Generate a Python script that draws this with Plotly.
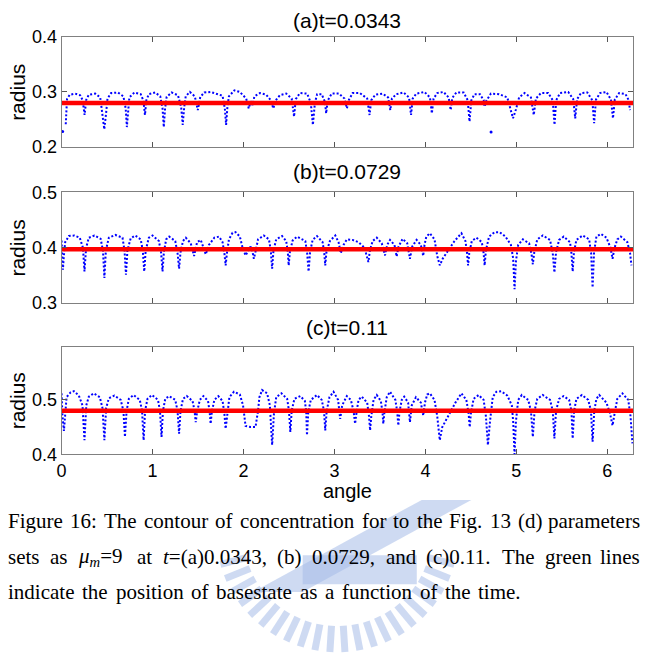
import math
import plotly.graph_objects as go

# ---------------- data ----------------
TITLES = ["(a)t=0.0343", "(b)t=0.0729", "(c)t=0.11"]
BASE_RADIUS = [0.280, 0.397, 0.480]
Y_RANGES = [(0.2, 0.4), (0.3, 0.5), (0.4, 0.598)]
Y_TICKS = [[0.2, 0.3, 0.4], [0.3, 0.4, 0.5], [0.4, 0.5]]
X_TICKS = [0, 1, 2, 3, 4, 5, 6]

# contour of panel (a): (angle, radius)
CONTOUR_A = [
    (0.046, 0.241), (0.052, 0.270), (0.060, 0.287), (0.090, 0.295), (0.150, 0.297), (0.205, 0.294),
    (0.232, 0.285), (0.253, 0.258), (0.272, 0.286), (0.300, 0.295), (0.370, 0.297), (0.425, 0.290),
    (0.450, 0.260), (0.470, 0.232), (0.490, 0.262), (0.505, 0.288), (0.545, 0.298), (0.620, 0.299),
    (0.680, 0.292), (0.705, 0.270), (0.718, 0.236), (0.731, 0.270), (0.745, 0.290), (0.800, 0.299),
    (0.870, 0.296), (0.900, 0.284), (0.917, 0.258), (0.932, 0.285), (0.960, 0.296), (1.030, 0.299),
    (1.085, 0.292), (1.110, 0.270), (1.124, 0.236), (1.138, 0.270), (1.155, 0.291), (1.210, 0.299),
    (1.280, 0.294), (1.315, 0.272), (1.332, 0.240), (1.348, 0.272), (1.365, 0.292), (1.410, 0.300),
    (1.465, 0.292), (1.498, 0.267), (1.525, 0.291), (1.570, 0.299), (1.640, 0.300), (1.770, 0.293),
    (1.795, 0.270), (1.809, 0.240), (1.823, 0.272), (1.840, 0.292), (1.900, 0.303), (1.960, 0.300),
    (2.030, 0.288), (2.058, 0.270), (2.080, 0.283), (2.100, 0.276), (2.120, 0.292), (2.180, 0.298),
    (2.250, 0.295), (2.300, 0.285), (2.328, 0.270), (2.355, 0.285), (2.400, 0.294), (2.470, 0.297),
    (2.530, 0.288), (2.556, 0.255), (2.575, 0.287), (2.620, 0.298), (2.700, 0.297), (2.740, 0.280),
    (2.763, 0.240), (2.785, 0.280), (2.810, 0.296), (2.860, 0.296), (2.895, 0.282), (2.909, 0.261),
    (2.925, 0.284), (2.970, 0.297), (3.050, 0.297), (3.110, 0.288), (3.137, 0.270), (3.160, 0.286),
    (3.200, 0.298), (3.280, 0.298), (3.360, 0.288), (3.386, 0.258), (3.405, 0.285), (3.450, 0.295),
    (3.530, 0.297), (3.590, 0.290), (3.614, 0.267), (3.632, 0.288), (3.680, 0.296), (3.760, 0.299),
    (3.820, 0.290), (3.842, 0.258), (3.860, 0.288), (3.900, 0.297), (3.990, 0.300), (4.050, 0.290),
    (4.071, 0.261), (4.090, 0.288), (4.130, 0.298), (4.200, 0.300), (4.255, 0.290), (4.278, 0.267),
    (4.295, 0.289), (4.340, 0.299), (4.420, 0.299), (4.465, 0.285), (4.485, 0.246), (4.505, 0.285),
    (4.540, 0.296), (4.600, 0.296), (4.640, 0.285), (4.651, 0.273), (4.670, 0.284), (4.720, 0.297),
    (4.810, 0.296), (4.900, 0.290), (4.930, 0.270), (4.963, 0.252), (4.995, 0.268), (5.030, 0.290),
    (5.090, 0.298), (5.160, 0.290), (5.191, 0.258), (5.215, 0.288), (5.270, 0.298), (5.350, 0.298),
    (5.400, 0.285), (5.419, 0.240), (5.438, 0.285), (5.480, 0.298), (5.570, 0.300), (5.625, 0.287),
    (5.647, 0.252), (5.668, 0.287), (5.710, 0.298), (5.780, 0.299), (5.835, 0.285), (5.855, 0.243),
    (5.875, 0.286), (5.920, 0.298), (5.990, 0.300), (6.040, 0.286), (6.062, 0.252), (6.082, 0.286),
    (6.130, 0.298), (6.200, 0.296), (6.235, 0.285), (6.249, 0.267),
]
STRAY_A = [(0.012, 0.228), (4.722, 0.227)]

CONTOUR_B = [
    (0.000, 0.413), (0.010, 0.385), (0.015, 0.360), (0.025, 0.385), (0.040, 0.410), (0.080, 0.421),
    (0.140, 0.422), (0.200, 0.418), (0.235, 0.400), (0.252, 0.357), (0.270, 0.400), (0.300, 0.418),
    (0.361, 0.422), (0.430, 0.416), (0.455, 0.395), (0.471, 0.345), (0.487, 0.395), (0.520, 0.418),
    (0.591, 0.423), (0.670, 0.418), (0.692, 0.395), (0.708, 0.351), (0.724, 0.395), (0.760, 0.417),
    (0.810, 0.422), (0.870, 0.415), (0.893, 0.395), (0.909, 0.357), (0.925, 0.395), (0.960, 0.418),
    (1.000, 0.422), (1.070, 0.412), (1.095, 0.390), (1.110, 0.357), (1.125, 0.392), (1.150, 0.415),
    (1.183, 0.420), (1.250, 0.412), (1.275, 0.390), (1.292, 0.362), (1.308, 0.392), (1.335, 0.412),
    (1.366, 0.418), (1.420, 0.408), (1.457, 0.385), (1.490, 0.410), (1.530, 0.414), (1.560, 0.400),
    (1.585, 0.388), (1.620, 0.405), (1.680, 0.418), (1.731, 0.420), (1.770, 0.410), (1.790, 0.390),
    (1.804, 0.368), (1.818, 0.390), (1.840, 0.415), (1.880, 0.427), (1.913, 0.428), (1.960, 0.420),
    (1.990, 0.400), (2.023, 0.386), (2.050, 0.395), (2.078, 0.402), (2.100, 0.392), (2.114, 0.380),
    (2.135, 0.395), (2.160, 0.415), (2.223, 0.422), (2.280, 0.415), (2.300, 0.395), (2.315, 0.362),
    (2.330, 0.395), (2.360, 0.415), (2.424, 0.421), (2.470, 0.412), (2.487, 0.392), (2.497, 0.368),
    (2.510, 0.392), (2.540, 0.413), (2.588, 0.420), (2.680, 0.412), (2.700, 0.390), (2.716, 0.357),
    (2.732, 0.392), (2.760, 0.414), (2.808, 0.421), (2.870, 0.410), (2.888, 0.390), (2.899, 0.368),
    (2.912, 0.392), (2.950, 0.412), (3.009, 0.422), (3.045, 0.410), (3.070, 0.390), (3.100, 0.405),
    (3.136, 0.415), (3.200, 0.414), (3.264, 0.410), (3.330, 0.400), (3.355, 0.385), (3.373, 0.374),
    (3.390, 0.395), (3.420, 0.412), (3.465, 0.418), (3.520, 0.408), (3.556, 0.386), (3.580, 0.405),
    (3.611, 0.414), (3.660, 0.405), (3.684, 0.384), (3.705, 0.402), (3.749, 0.416), (3.800, 0.408),
    (3.830, 0.380), (3.855, 0.402), (3.903, 0.414), (3.950, 0.405), (3.976, 0.385), (3.990, 0.405),
    (4.010, 0.420), (4.049, 0.426), (4.100, 0.415), (4.130, 0.385), (4.158, 0.368), (4.190, 0.380),
    (4.250, 0.395), (4.320, 0.412), (4.396, 0.426), (4.440, 0.412), (4.458, 0.390), (4.469, 0.368),
    (4.482, 0.390), (4.510, 0.412), (4.560, 0.418), (4.620, 0.410), (4.640, 0.390), (4.651, 0.368),
    (4.665, 0.395), (4.700, 0.420), (4.760, 0.428), (4.816, 0.428), (4.880, 0.420), (4.940, 0.405),
    (4.965, 0.380), (4.980, 0.325), (4.995, 0.375), (5.020, 0.405), (5.071, 0.415), (5.140, 0.408),
    (5.165, 0.390), (5.181, 0.370), (5.197, 0.392), (5.230, 0.415), (5.290, 0.422), (5.370, 0.414),
    (5.400, 0.390), (5.418, 0.355), (5.436, 0.392), (5.470, 0.414), (5.520, 0.420), (5.590, 0.410),
    (5.605, 0.390), (5.619, 0.357), (5.633, 0.392), (5.660, 0.414), (5.728, 0.422), (5.800, 0.415),
    (5.822, 0.390), (5.838, 0.328), (5.854, 0.392), (5.880, 0.420), (5.929, 0.425), (5.990, 0.418),
    (6.035, 0.400), (6.057, 0.380), (6.080, 0.400), (6.110, 0.415), (6.148, 0.420), (6.220, 0.410),
    (6.250, 0.390), (6.265, 0.368),
]

CONTOUR_C = [
    (0.000, 0.512), (0.010, 0.470), (0.026, 0.443), (0.040, 0.480), (0.055, 0.505), (0.100, 0.514),
    (0.135, 0.516), (0.190, 0.508), (0.230, 0.490), (0.252, 0.426), (0.272, 0.490), (0.300, 0.506),
    (0.354, 0.512), (0.420, 0.505), (0.450, 0.485), (0.471, 0.426), (0.490, 0.485), (0.520, 0.503),
    (0.580, 0.508), (0.650, 0.500), (0.680, 0.480), (0.697, 0.432), (0.715, 0.480), (0.740, 0.502),
    (0.792, 0.509), (0.860, 0.500), (0.885, 0.480), (0.902, 0.426), (0.918, 0.480), (0.945, 0.502),
    (0.993, 0.509), (1.060, 0.500), (1.082, 0.480), (1.099, 0.432), (1.115, 0.480), (1.140, 0.502),
    (1.183, 0.507), (1.250, 0.500), (1.275, 0.480), (1.292, 0.438), (1.308, 0.480), (1.335, 0.502),
    (1.376, 0.507), (1.440, 0.498), (1.462, 0.480), (1.475, 0.459), (1.490, 0.478), (1.520, 0.500),
    (1.559, 0.507), (1.610, 0.498), (1.628, 0.478), (1.639, 0.456), (1.652, 0.478), (1.680, 0.500),
    (1.723, 0.507), (1.770, 0.498), (1.790, 0.475), (1.804, 0.447), (1.820, 0.475), (1.845, 0.505),
    (1.895, 0.515), (1.960, 0.510), (1.995, 0.490), (2.023, 0.452), (2.080, 0.450), (2.132, 0.450),
    (2.160, 0.480), (2.175, 0.505), (2.205, 0.518), (2.260, 0.512), (2.290, 0.490), (2.315, 0.417),
    (2.335, 0.475), (2.360, 0.505), (2.417, 0.512), (2.480, 0.502), (2.500, 0.480), (2.515, 0.441),
    (2.530, 0.480), (2.560, 0.502), (2.625, 0.507), (2.675, 0.498), (2.690, 0.478), (2.698, 0.435),
    (2.712, 0.478), (2.740, 0.500), (2.808, 0.509), (2.860, 0.500), (2.885, 0.480), (2.899, 0.444),
    (2.915, 0.480), (2.945, 0.505), (2.990, 0.515), (3.040, 0.500), (3.063, 0.465), (3.085, 0.490),
    (3.136, 0.507), (3.180, 0.500), (3.210, 0.480), (3.227, 0.456), (3.245, 0.480), (3.265, 0.500),
    (3.300, 0.506), (3.360, 0.495), (3.380, 0.470), (3.392, 0.444), (3.405, 0.470), (3.430, 0.500),
    (3.465, 0.509), (3.510, 0.498), (3.528, 0.478), (3.537, 0.456), (3.550, 0.478), (3.575, 0.505),
    (3.611, 0.515), (3.670, 0.500), (3.690, 0.478), (3.702, 0.453), (3.715, 0.478), (3.740, 0.500),
    (3.767, 0.506), (3.810, 0.495), (3.830, 0.459), (3.850, 0.490), (3.896, 0.505), (3.950, 0.495),
    (3.976, 0.471), (3.995, 0.495), (4.020, 0.510), (4.049, 0.512), (4.100, 0.500), (4.130, 0.470),
    (4.158, 0.426), (4.185, 0.450), (4.250, 0.470), (4.330, 0.495), (4.396, 0.512), (4.450, 0.500),
    (4.475, 0.475), (4.487, 0.450), (4.500, 0.475), (4.530, 0.502), (4.585, 0.509), (4.640, 0.500),
    (4.665, 0.470), (4.687, 0.417), (4.710, 0.460), (4.740, 0.505), (4.780, 0.515), (4.833, 0.516),
    (4.900, 0.508), (4.950, 0.490), (4.965, 0.460), (4.980, 0.400), (4.995, 0.460), (5.020, 0.500),
    (5.060, 0.509), (5.130, 0.500), (5.160, 0.480), (5.181, 0.432), (5.200, 0.480), (5.230, 0.502),
    (5.290, 0.509), (5.370, 0.500), (5.400, 0.480), (5.418, 0.429), (5.436, 0.480), (5.470, 0.502),
    (5.520, 0.507), (5.580, 0.500), (5.605, 0.480), (5.619, 0.429), (5.635, 0.480), (5.660, 0.502),
    (5.721, 0.509), (5.790, 0.500), (5.820, 0.480), (5.838, 0.423), (5.856, 0.480), (5.880, 0.502),
    (5.911, 0.509), (5.990, 0.495), (6.030, 0.475), (6.057, 0.453), (6.085, 0.480), (6.110, 0.502),
    (6.166, 0.512), (6.230, 0.500), (6.255, 0.470), (6.276, 0.420),
]

# caption words: (html, plain text used for width)
CAPTION_LINES = [
    [("Figure", "Figure"), ("16:", "16:"), ("The", "The"), ("contour", "contour"), ("of", "of"),
     ("concentration", "concentration"), ("for", "for"), ("to", "to"), ("the", "the"), ("Fig.", "Fig."),
     ("13", "13"), ("(d)", "(d)"), ("parameters", "parameters")],
    [("sets", "sets"), ("as", "as"), ("<i>μ</i><sub><i>m</i></sub>=9", "μm=9"), ("at", "at"),
     ("<i>t</i>=(a)0.0343,", "t=(a)0.0343,"), ("(b)", "(b)"), ("0.0729,", "0.0729,"), ("and", "and"),
     ("(c)0.11.", "(c)0.11."), ("The", "The"), ("green", "green"), ("lines", "lines")],
    [("indicate", "indicate"), ("the", "the"), ("position", "position"), ("of", "of"),
     ("basestate", "basestate"), ("as", "as"), ("a", "a"), ("function", "function"), ("of", "of"),
     ("the", "the"), ("time.", "time.")],
]
CAPTION_Y = [527, 564, 600]
CAPTION_RIGHT = [641, 641, 519]

# ---------------- layout helpers ----------------
W, H = 645, 668
def px(x):
    return x / W
def py(y):
    return 1 - y / H

X_LEFT, X_RIGHT = 57, 633
PANEL_PIX = [(28, 141), (188, 302), (347, 458)]
TITLE_Y = [11, 166, 327]
SANS = "Liberation Sans, Arial, sans-serif"
SERIF = "Liberation Serif, Times New Roman, serif"
CAP_SIZE = 21

# approximate Times glyph advance widths (per 1000 em) for laying out the justified caption
CW = {' ': 250, '(': 333, ')': 333, ',': 250, '.': 250, ':': 278, '=': 564, 'F': 556, 'T': 611,
      'a': 444, 'b': 500, 'c': 444, 'd': 500, 'e': 444, 'f': 333, 'g': 500, 'h': 500, 'i': 278,
      'l': 278, 'm': 778, 'n': 500, 'o': 500, 'p': 500, 'r': 333, 's': 389, 't': 278, 'u': 500,
      'μ': 500}
def text_w(s, size):
    return sum(CW.get(ch, 500) for ch in s) / 1000.0 * size * 1.012

fig = go.Figure()
contours = [CONTOUR_A, CONTOUR_B, CONTOUR_C]
for i in range(3):
    xa = "x" if i == 0 else f"x{i+1}"
    ya = "y" if i == 0 else f"y{i+1}"
    ang = [p[0] for p in contours[i]]
    rad = [p[1] for p in contours[i]]
    fig.add_trace(go.Scatter(x=ang, y=rad, mode="lines", xaxis=xa, yaxis=ya,
                             line=dict(color="#0000ff", width=2, dash="2px,2px"),
                             showlegend=False, hoverinfo="skip"))
    if i == 0:
        fig.add_trace(go.Scatter(x=[p[0] for p in STRAY_A], y=[p[1] for p in STRAY_A],
                                 mode="markers", xaxis=xa, yaxis=ya,
                                 marker=dict(color="#0000ff", size=3), showlegend=False))
    fig.add_trace(go.Scatter(x=[0, 2 * math.pi], y=[BASE_RADIUS[i], BASE_RADIUS[i]], mode="lines",
                             xaxis=xa, yaxis=ya, line=dict(color="#ff0000", width=4.5),
                             showlegend=False, hoverinfo="skip"))

layout = dict(width=W, height=H, margin=dict(l=0, r=0, t=0, b=0),
              paper_bgcolor="white", plot_bgcolor="white", showlegend=False)
annotations = []
axis_common = dict(showline=True, linecolor="#808080", linewidth=1, mirror="allticks",
                   ticks="inside", ticklen=5, tickcolor="#555555", tickwidth=1,
                   showgrid=False, zeroline=False,
                   tickfont=dict(family=SANS, size=18, color="black"))
for i in range(3):
    top, bot = PANEL_PIX[i]
    xk = "xaxis" if i == 0 else f"xaxis{i+1}"
    yk = "yaxis" if i == 0 else f"yaxis{i+1}"
    ya = "y" if i == 0 else f"y{i+1}"
    xa = "x" if i == 0 else f"x{i+1}"
    layout[xk] = dict(domain=[px(X_LEFT), px(X_RIGHT)], range=[0, 2 * math.pi], anchor=ya,
                      tickvals=X_TICKS, showticklabels=(i == 2), **axis_common)
    layout[yk] = dict(domain=[py(bot), py(top)], range=list(Y_RANGES[i]), anchor=xa,
                      tickvals=Y_TICKS[i], ticktext=[f"{v:.1f}" for v in Y_TICKS[i]], **axis_common)
    annotations.append(dict(text=TITLES[i], x=px((X_LEFT + X_RIGHT) / 2), y=py(TITLE_Y[i]),
                            xref="paper", yref="paper", showarrow=False, xanchor="center", yanchor="middle",
                            font=dict(family=SANS, size=21, color="black")))
    annotations.append(dict(text="radius", x=px(13), y=py((top + bot) / 2), textangle=-90,
                            xref="paper", yref="paper", showarrow=False, xanchor="center", yanchor="middle",
                            font=dict(family=SANS, size=21, color="black")))
annotations.append(dict(text="angle", x=px((X_LEFT + X_RIGHT) / 2), y=py(496), xref="paper", yref="paper",
                        showarrow=False, xanchor="center", yanchor="middle",
                        font=dict(family=SANS, size=20, color="black")))

# justified caption, one annotation per word
for words, ly, right in zip(CAPTION_LINES, CAPTION_Y, CAPTION_RIGHT):
    widths = [text_w(plain, CAP_SIZE) for _, plain in words]
    left = 2
    gap = (right - left - sum(widths)) / (len(words) - 1)
    xpos = left
    for k, (html, _) in enumerate(words):
        if k == len(words) - 1 and right > 600:
            annotations.append(dict(text=html, x=px(right), y=py(ly), xref="paper", yref="paper",
                                    showarrow=False, xanchor="right", yanchor="middle", borderpad=0,
                                    font=dict(family=SERIF, size=CAP_SIZE, color="black")))
        else:
            annotations.append(dict(text=html, x=px(xpos), y=py(ly), xref="paper", yref="paper",
                                    showarrow=False, xanchor="left", yanchor="middle", borderpad=0,
                                    font=dict(family=SERIF, size=CAP_SIZE, color="black")))
        xpos += widths[k] + gap

# faint watermark logo behind the caption
WM = "rgba(165,187,232,0.55)"
shapes = []
cx, cy = 335, 540
for k in range(22):
    a = math.radians(195 + k * (150 / 21))
    x0, y0 = cx + 95 * math.cos(a), cy - 95 * math.sin(a)
    x1, y1 = cx + 122 * math.cos(a), cy - 122 * math.sin(a)
    shapes.append(dict(type="line", xref="paper", yref="paper", x0=px(x0), y0=py(y0), x1=px(x1), y1=py(y1),
                       line=dict(color=WM, width=7), layer="below"))
shapes.append(dict(type="path", xref="paper", yref="paper", layer="below", line=dict(width=0), fillcolor=WM,
                   path=f"M {px(250)},{py(600)} L {px(300)},{py(600)} L {px(470)},{py(505)} L {px(420)},{py(505)} Z"))
shapes.append(dict(type="rect", xref="paper", yref="paper", layer="below", line=dict(width=0), fillcolor=WM,
                   x0=px(300), x1=px(415), y0=py(592), y1=py(562)))

layout["annotations"] = annotations
layout["shapes"] = shapes
fig.update_layout(**layout)
fig.write_html("out.html")
